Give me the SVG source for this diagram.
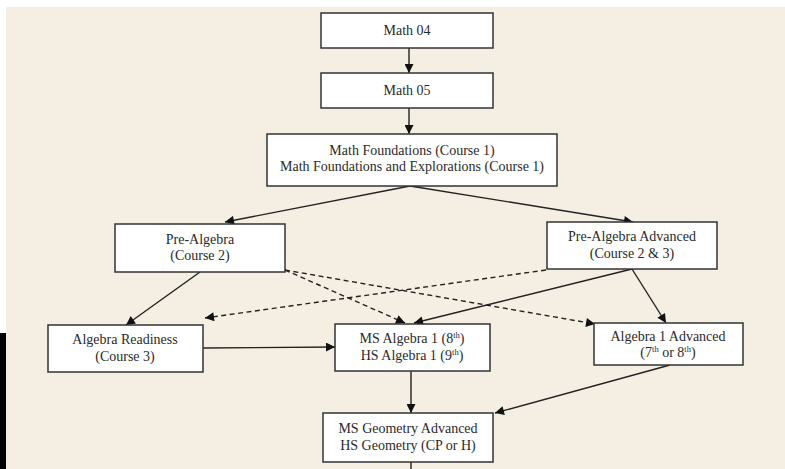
<svg xmlns="http://www.w3.org/2000/svg" width="785" height="469" viewBox="0 0 785 469">
<defs>
<marker id="ah" viewBox="0 0 10 10" refX="10" refY="5" markerWidth="10" markerHeight="9" markerUnits="userSpaceOnUse" orient="auto"><path d="M0,0 L10,5 L0,10 Z" fill="#111"/></marker>
<style>
.box{fill:#fff;stroke:#333;stroke-width:1.5}
.t{font-family:"Liberation Serif","Times New Roman",serif;font-size:14px;fill:#2a2a2a;text-anchor:middle}
.c{fill:none;stroke:#222;stroke-width:1.4;marker-end:url(#ah)}
.d{stroke-dasharray:5,3.5}
.sup{font-size:8.5px}
</style>
</defs>
<rect x="0" y="0" width="785" height="469" fill="#fff"/>
<rect x="6" y="7" width="779" height="462" fill="#f5eee2"/>
<rect x="0" y="333" width="6" height="136" fill="#000"/>
<g id="connectors">
<path class="c" d="M409,48 L409,73"/>
<path class="c" d="M409,108 L409,134"/>
<path class="c" d="M410,186 L225,222"/>
<path class="c" d="M410,186 L633,222"/>
<path class="c" d="M200,272 L126,325"/>
<path class="c" d="M632,269 L414,323"/>
<path class="c" d="M632,269 L666,323"/>
<path class="c d" d="M546,270 L205,318"/>
<path class="c d" d="M285,270 L405,323"/>
<path class="c d" d="M285,270 L595,324"/>
<path class="c" d="M203,348 L335,347"/>
<path class="c" d="M411,371 L411,413"/>
<path class="c" d="M670,365 L495,413"/>
<path fill="none" stroke="#222" stroke-width="1.4" d="M411,462 L411,469"/>
</g>
<g id="math04"><rect class="box" x="321" y="13" width="172" height="35"/><text class="t" x="407" y="35">Math 04</text></g>
<g id="math05"><rect class="box" x="321" y="73" width="172" height="35"/><text class="t" x="407" y="95">Math 05</text></g>
<g id="foundations"><rect class="box" x="267" y="134" width="290" height="52"/><text class="t" x="412" y="155">Math Foundations (Course 1)</text><text class="t" x="412" y="171">Math Foundations and Explorations (Course 1)</text></g>
<g id="prealgebra"><rect class="box" x="115" y="224" width="170" height="48"/><text class="t" x="200" y="244">Pre-Algebra</text><text class="t" x="200" y="260">(Course 2)</text></g>
<g id="prealgebra-adv"><rect class="box" x="547" y="222" width="170" height="47"/><text class="t" x="632" y="241">Pre-Algebra Advanced</text><text class="t" x="632" y="258">(Course 2 &amp; 3)</text></g>
<g id="alg-readiness"><rect class="box" x="48" y="325" width="155" height="47"/><text class="t" x="125" y="344">Algebra Readiness</text><text class="t" x="125" y="361">(Course 3)</text></g>
<g id="ms-algebra1"><rect class="box" x="335" y="324" width="155" height="47"/><text class="t" x="412" y="343">MS Algebra 1 (8<tspan class="sup" dy="-5">th</tspan><tspan dy="5">)</tspan></text><text class="t" x="412" y="360">HS Algebra 1 (9<tspan class="sup" dy="-5">th</tspan><tspan dy="5">)</tspan></text></g>
<g id="alg1-adv"><rect class="box" x="594" y="323" width="149" height="42"/><text class="t" x="668" y="341">Algebra 1 Advanced</text><text class="t" x="668" y="357">(7<tspan class="sup" dy="-5">th</tspan><tspan dy="5"> or 8</tspan><tspan class="sup" dy="-5">th</tspan><tspan dy="5">)</tspan></text></g>
<g id="geometry"><rect class="box" x="323" y="413" width="170" height="49"/><text class="t" x="408" y="433">MS Geometry Advanced</text><text class="t" x="408" y="450">HS Geometry (CP or H)</text></g>
</svg>
